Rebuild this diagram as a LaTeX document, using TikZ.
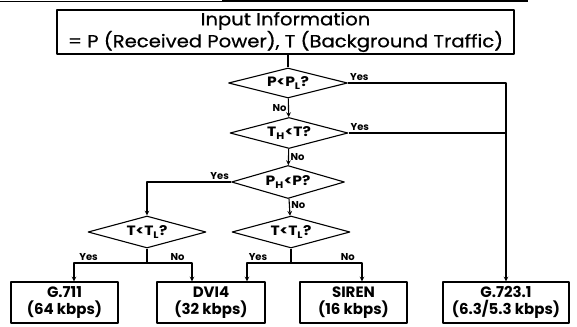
\documentclass[tikz,border=0pt]{standalone}
\usepackage{fontspec}
\setmainfont{Poppins}
\newfontfamily\widefont{Poppins}[FakeStretch=1.15]
\newfontfamily\infofont{Poppins}[FakeStretch=1.12,FakeBold=0.7]
\usetikzlibrary{shapes.geometric}
\begin{document}
\begin{tikzpicture}[x=1pt,y=-1pt,font=\fontsize{12}{14}\selectfont, line join=round, >=stealth, line width=1.1pt,
	box/.style={draw,rectangle,align=center,inner sep=0pt,font=\fontsize{15}{17.5}\selectfont\bfseries},
	test/.style={draw,diamond,aspect=3.8,inner sep=0pt,font=\widefont\fontsize{13.5}{14}\selectfont\bfseries},
	lbl/.style={font=\fontsize{10}{11}\selectfont\bfseries,inner sep=1.5pt}]
	\useasboundingbox (0,0) rectangle (577,326);
	% rule left over from the page above
	\draw[line width=0.6pt] (0,1) -- (222,1);
	\draw[line width=2pt] (222,1) -- (528,1);
	% input box
	\node[box,font=\infofont\fontsize{17.5}{18.5}\selectfont,minimum width=457,minimum height=44] (info) at (285.5,32)
		{Input Information\\= P (Received Power), T (Background Traffic)};
	% decisions
	\node[test,minimum width=119,minimum height=30] (pl) at (288,83) {P<P\textsubscript{L}?};
	\node[test,minimum width=118,minimum height=31] (th) at (289,133) {T\textsubscript{H}<T?};
	\node[test,minimum width=113,minimum height=33] (ph) at (288,182) {P\textsubscript{H}<P?};
	\node[test,minimum width=118,minimum height=32] (tla) at (147,232) {T<T\textsubscript{L}?};
	\node[test,minimum width=118,minimum height=32] (tlb) at (291,232) {T<T\textsubscript{L}?};
	% codecs
	\foreach \n/\x/\w/\t in {g711/64.5/107/{G.711\\(64 kbps)},dvi/211/108/{DVI4\\(32 kbps)},
		siren/353.5/107/{SIREN\\(16 kbps)},g723/506/126/{G.723.1\\(6.3/5.3 kbps)}}{
		\node[box,minimum width=\w,minimum height=41] (\n) at (\x,302.5) {\t};
	}
	\coordinate (ja) at (147,263);
	\coordinate (jb) at (291,263);
	\draw (info.south -| pl.north) -- (pl.north);
	\draw[->] (pl) -- node[lbl,left]{No} (th);
	\draw[->] (th) -- node[lbl,right]{No} (ph);
	\draw[->] (ph) -- node[lbl,right,pos=0.35]{No} (tlb);
	\draw[->] (pl.east) node[lbl,above right]{Yes} -- (pl.east -| g723.north) -- (g723.north);
	\draw (th.east) node[lbl,above right]{Yes} -- (th.east -| g723.north);
	\draw[->] (ph.west) node[lbl,above left]{Yes} -| (tla.north);
	\draw (tla.south) -- (ja);
	\draw (tlb.south) -- (jb);
	\draw[->] (ja) -| node[lbl,above,pos=0.4]{Yes} ([xshift=9.5]g711.north);
	\draw[->] (ja) -| node[lbl,above,pos=0.34]{No} ([xshift=-19]dvi.north);
	\draw[->] (jb) -| node[lbl,above,pos=0.375]{Yes} ([xshift=36]dvi.north);
	\draw[->] (jb) -| node[lbl,above,pos=0.4]{No} ([xshift=8.5]siren.north);
\end{tikzpicture}
\end{document}
